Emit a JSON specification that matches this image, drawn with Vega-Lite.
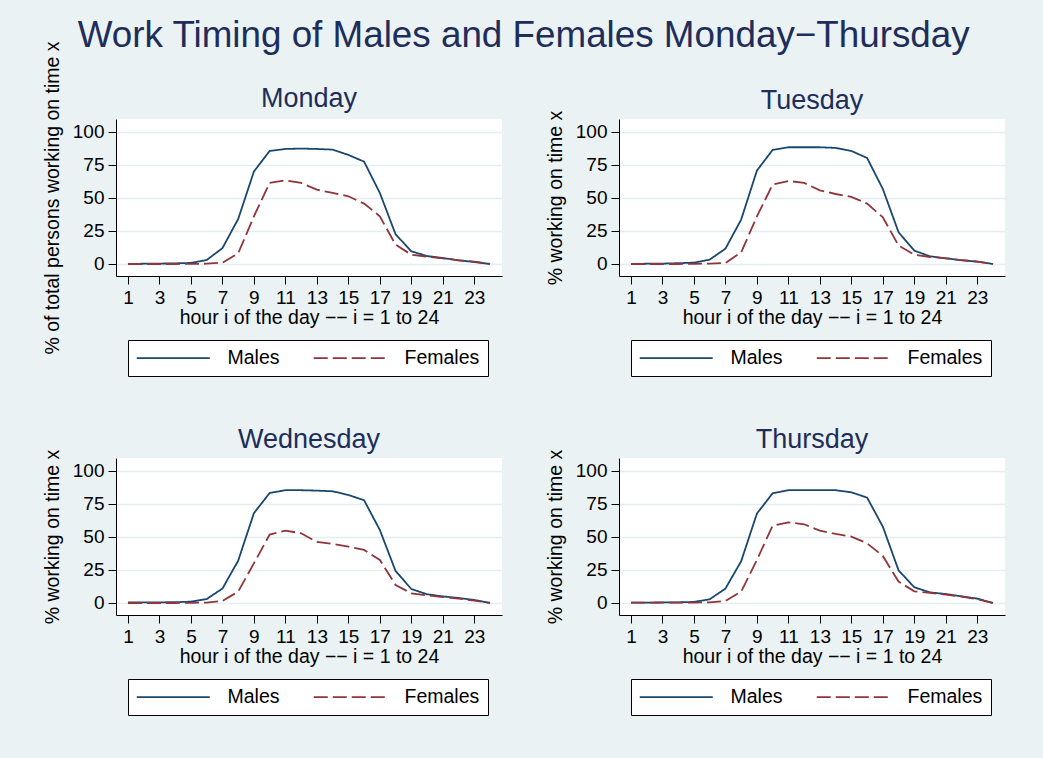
{
  "$schema": "https://vega.github.io/schema/vega-lite/v6.json",
  "padding": {"left": 42, "top": 18, "right": 38, "bottom": 46},
  "background": "#EAF2F3",
  "title": {"text": "Work Timing of Males and Females Monday−Thursday", "fontSize": 36.8, "anchor": "middle", "frame": "bounds", "color": "#1E2D5A", "fontWeight": "normal", "offset": -14},
  "datasets": {
    "work": [
      {"day":"Monday","hour":1,"Males":0,"Females":0},
      {"day":"Monday","hour":2,"Males":0.2,"Females":0},
      {"day":"Monday","hour":3,"Males":0.3,"Females":0},
      {"day":"Monday","hour":4,"Males":0.5,"Females":0},
      {"day":"Monday","hour":5,"Males":0.8,"Females":0.1},
      {"day":"Monday","hour":6,"Males":3,"Females":0.2},
      {"day":"Monday","hour":7,"Males":12,"Females":1},
      {"day":"Monday","hour":8,"Males":34,"Females":8},
      {"day":"Monday","hour":9,"Males":70,"Females":36},
      {"day":"Monday","hour":10,"Males":85.6,"Females":61.4},
      {"day":"Monday","hour":11,"Males":87.1,"Females":63.4},
      {"day":"Monday","hour":12,"Males":87.4,"Females":61.4},
      {"day":"Monday","hour":13,"Males":87.1,"Females":56.3},
      {"day":"Monday","hour":14,"Males":86.6,"Females":53.8},
      {"day":"Monday","hour":15,"Males":82.6,"Females":51.3},
      {"day":"Monday","hour":16,"Males":77.5,"Females":45.7},
      {"day":"Monday","hour":17,"Males":53.8,"Females":36.1},
      {"day":"Monday","hour":18,"Males":22.5,"Females":14.6},
      {"day":"Monday","hour":19,"Males":9.6,"Females":7},
      {"day":"Monday","hour":20,"Males":6,"Females":5.6},
      {"day":"Monday","hour":21,"Males":4.5,"Females":4.3},
      {"day":"Monday","hour":22,"Males":2.8,"Females":2.8},
      {"day":"Monday","hour":23,"Males":1.5,"Females":1.8},
      {"day":"Monday","hour":24,"Males":0,"Females":0},
      {"day":"Tuesday","hour":1,"Males":0,"Females":0},
      {"day":"Tuesday","hour":2,"Males":0.2,"Females":0},
      {"day":"Tuesday","hour":3,"Males":0.3,"Females":0},
      {"day":"Tuesday","hour":4,"Males":0.6,"Females":0},
      {"day":"Tuesday","hour":5,"Males":1,"Females":0.1},
      {"day":"Tuesday","hour":6,"Males":3.3,"Females":0.3},
      {"day":"Tuesday","hour":7,"Males":11.6,"Females":0.8},
      {"day":"Tuesday","hour":8,"Males":33.6,"Females":8.8},
      {"day":"Tuesday","hour":9,"Males":70.7,"Females":36},
      {"day":"Tuesday","hour":10,"Males":86.4,"Females":60.1},
      {"day":"Tuesday","hour":11,"Males":88.4,"Females":62.9},
      {"day":"Tuesday","hour":12,"Males":88.4,"Females":61.4},
      {"day":"Tuesday","hour":13,"Males":88.4,"Females":55.8},
      {"day":"Tuesday","hour":14,"Males":87.9,"Females":53},
      {"day":"Tuesday","hour":15,"Males":85.6,"Females":50.8},
      {"day":"Tuesday","hour":16,"Males":80.3,"Females":45.7},
      {"day":"Tuesday","hour":17,"Males":56.8,"Females":35.4},
      {"day":"Tuesday","hour":18,"Males":24,"Females":13.9},
      {"day":"Tuesday","hour":19,"Males":10.1,"Females":7},
      {"day":"Tuesday","hour":20,"Males":5.8,"Females":5.3},
      {"day":"Tuesday","hour":21,"Males":4.3,"Females":4.3},
      {"day":"Tuesday","hour":22,"Males":2.8,"Females":3},
      {"day":"Tuesday","hour":23,"Males":1.8,"Females":1.8},
      {"day":"Tuesday","hour":24,"Males":0,"Females":0},
      {"day":"Wednesday","hour":1,"Males":0.5,"Females":0},
      {"day":"Wednesday","hour":2,"Males":0.5,"Females":0},
      {"day":"Wednesday","hour":3,"Males":0.5,"Females":0},
      {"day":"Wednesday","hour":4,"Males":0.6,"Females":0},
      {"day":"Wednesday","hour":5,"Males":1,"Females":0.1},
      {"day":"Wednesday","hour":6,"Males":3,"Females":0.3},
      {"day":"Wednesday","hour":7,"Males":10.9,"Females":1.5},
      {"day":"Wednesday","hour":8,"Males":32,"Females":8.6},
      {"day":"Wednesday","hour":9,"Males":68,"Females":30},
      {"day":"Wednesday","hour":10,"Males":83.3,"Females":51.8},
      {"day":"Wednesday","hour":11,"Males":85.4,"Females":54.8},
      {"day":"Wednesday","hour":12,"Males":85.4,"Females":52.8},
      {"day":"Wednesday","hour":13,"Males":85.1,"Females":46.2},
      {"day":"Wednesday","hour":14,"Males":84.6,"Females":44.7},
      {"day":"Wednesday","hour":15,"Males":81.8,"Females":42.7},
      {"day":"Wednesday","hour":16,"Males":77.8,"Females":40.2},
      {"day":"Wednesday","hour":17,"Males":55.3,"Females":32.6},
      {"day":"Wednesday","hour":18,"Males":24.2,"Females":13.6},
      {"day":"Wednesday","hour":19,"Males":10.6,"Females":7.3},
      {"day":"Wednesday","hour":20,"Males":6.6,"Females":5.8},
      {"day":"Wednesday","hour":21,"Males":5,"Females":4.5},
      {"day":"Wednesday","hour":22,"Males":3.8,"Females":3.3},
      {"day":"Wednesday","hour":23,"Males":2.3,"Females":1.8},
      {"day":"Wednesday","hour":24,"Males":0,"Females":0},
      {"day":"Thursday","hour":1,"Males":0.3,"Females":0.2},
      {"day":"Thursday","hour":2,"Males":0.3,"Females":0.2},
      {"day":"Thursday","hour":3,"Males":0.4,"Females":0.2},
      {"day":"Thursday","hour":4,"Males":0.5,"Females":0.2},
      {"day":"Thursday","hour":5,"Males":0.8,"Females":0.3},
      {"day":"Thursday","hour":6,"Males":2.8,"Females":0.5},
      {"day":"Thursday","hour":7,"Males":10.9,"Females":1.5},
      {"day":"Thursday","hour":8,"Males":31.6,"Females":8.6},
      {"day":"Thursday","hour":9,"Males":67.7,"Females":32.6},
      {"day":"Thursday","hour":10,"Males":83.1,"Females":58.6},
      {"day":"Thursday","hour":11,"Males":85.4,"Females":61.1},
      {"day":"Thursday","hour":12,"Males":85.4,"Females":59.6},
      {"day":"Thursday","hour":13,"Males":85.4,"Females":54.8},
      {"day":"Thursday","hour":14,"Males":85.4,"Females":52.3},
      {"day":"Thursday","hour":15,"Males":83.8,"Females":50.3},
      {"day":"Thursday","hour":16,"Males":79.8,"Females":45.2},
      {"day":"Thursday","hour":17,"Males":57.8,"Females":35.6},
      {"day":"Thursday","hour":18,"Males":24.7,"Females":16.2},
      {"day":"Thursday","hour":19,"Males":11.9,"Females":8.8},
      {"day":"Thursday","hour":20,"Males":8,"Females":7.6},
      {"day":"Thursday","hour":21,"Males":6.8,"Females":6.3},
      {"day":"Thursday","hour":22,"Males":5,"Females":4.8},
      {"day":"Thursday","hour":23,"Males":3.3,"Females":2.8},
      {"day":"Thursday","hour":24,"Males":0,"Females":0}
    ]
  },
  "data": {"name": "work"},
  "columns": 2,
  "bounds": "flush",
  "spacing": {"row": 182, "column": 117},
  "concat": [
    {
      "title": {"text": "Monday", "offset": -72},
      "width": 386, "height": 157,
      "transform": [{"filter": "datum.day === 'Monday'"}, {"fold": ["Males", "Females"], "as": ["sex", "value"]}],
      "mark": {"type": "line", "strokeWidth": 1.8},
      "encoding": {
        "x": {"field": "hour", "type": "quantitative", "scale": {"domain": [0.24, 24.76], "nice": false, "zero": false}, "axis": {"values": [1,3,5,7,9,11,13,15,17,19,21,23], "title": "hour i of the day −− i = 1 to 24"}},
        "y": {"field": "value", "type": "quantitative", "scale": {"domain": [-9.1, 109.8], "nice": false, "zero": false}, "axis": {"values": [0,25,50,75,100], "title": "% of total persons working on time x"}},
        "color": {"field": "sex", "type": "nominal", "scale": {"domain": ["Males", "Females"], "range": ["#1A476F", "#90353B"]}, "legend": {"orient": "none", "legendX": 12, "legendY": 221, "direction": "horizontal", "columns": 2, "title": null}},
        "strokeDash": {"field": "sex", "type": "nominal", "scale": {"domain": ["Males", "Females"], "range": [[1, 0], [14, 5]]}, "legend": {"orient": "none", "legendX": 12, "legendY": 221, "direction": "horizontal", "columns": 2, "title": null}}
      }
    },
    {
      "title": {"text": "Tuesday", "offset": -5},
      "width": 386, "height": 157,
      "transform": [{"filter": "datum.day === 'Tuesday'"}, {"fold": ["Males", "Females"], "as": ["sex", "value"]}],
      "mark": {"type": "line", "strokeWidth": 1.8},
      "encoding": {
        "x": {"field": "hour", "type": "quantitative", "scale": {"domain": [0.24, 24.76], "nice": false, "zero": false}, "axis": {"values": [1,3,5,7,9,11,13,15,17,19,21,23], "title": "hour i of the day −− i = 1 to 24"}},
        "y": {"field": "value", "type": "quantitative", "scale": {"domain": [-9.1, 109.8], "nice": false, "zero": false}, "axis": {"values": [0,25,50,75,100], "title": "% working on time x"}},
        "color": {"field": "sex", "type": "nominal", "scale": {"domain": ["Males", "Females"], "range": ["#1A476F", "#90353B"]}, "legend": {"orient": "none", "legendX": 12, "legendY": 221, "direction": "horizontal", "columns": 2, "title": null}},
        "strokeDash": {"field": "sex", "type": "nominal", "scale": {"domain": ["Males", "Females"], "range": [[1, 0], [14, 5]]}, "legend": {"orient": "none", "legendX": 12, "legendY": 221, "direction": "horizontal", "columns": 2, "title": null}}
      }
    },
    {
      "title": {"text": "Wednesday", "offset": -5},
      "width": 386, "height": 157,
      "transform": [{"filter": "datum.day === 'Wednesday'"}, {"fold": ["Males", "Females"], "as": ["sex", "value"]}],
      "mark": {"type": "line", "strokeWidth": 1.8},
      "encoding": {
        "x": {"field": "hour", "type": "quantitative", "scale": {"domain": [0.24, 24.76], "nice": false, "zero": false}, "axis": {"values": [1,3,5,7,9,11,13,15,17,19,21,23], "title": "hour i of the day −− i = 1 to 24"}},
        "y": {"field": "value", "type": "quantitative", "scale": {"domain": [-9.1, 109.8], "nice": false, "zero": false}, "axis": {"values": [0,25,50,75,100], "title": "% working on time x"}},
        "color": {"field": "sex", "type": "nominal", "scale": {"domain": ["Males", "Females"], "range": ["#1A476F", "#90353B"]}, "legend": {"orient": "none", "legendX": 12, "legendY": 221, "direction": "horizontal", "columns": 2, "title": null}},
        "strokeDash": {"field": "sex", "type": "nominal", "scale": {"domain": ["Males", "Females"], "range": [[1, 0], [14, 5]]}, "legend": {"orient": "none", "legendX": 12, "legendY": 221, "direction": "horizontal", "columns": 2, "title": null}}
      }
    },
    {
      "title": {"text": "Thursday", "offset": -5},
      "width": 386, "height": 157,
      "transform": [{"filter": "datum.day === 'Thursday'"}, {"fold": ["Males", "Females"], "as": ["sex", "value"]}],
      "mark": {"type": "line", "strokeWidth": 1.8},
      "encoding": {
        "x": {"field": "hour", "type": "quantitative", "scale": {"domain": [0.24, 24.76], "nice": false, "zero": false}, "axis": {"values": [1,3,5,7,9,11,13,15,17,19,21,23], "title": "hour i of the day −− i = 1 to 24"}},
        "y": {"field": "value", "type": "quantitative", "scale": {"domain": [-9.1, 109.8], "nice": false, "zero": false}, "axis": {"values": [0,25,50,75,100], "title": "% working on time x"}},
        "color": {"field": "sex", "type": "nominal", "scale": {"domain": ["Males", "Females"], "range": ["#1A476F", "#90353B"]}, "legend": {"orient": "none", "legendX": 12, "legendY": 221, "direction": "horizontal", "columns": 2, "title": null}},
        "strokeDash": {"field": "sex", "type": "nominal", "scale": {"domain": ["Males", "Females"], "range": [[1, 0], [14, 5]]}, "legend": {"orient": "none", "legendX": 12, "legendY": 221, "direction": "horizontal", "columns": 2, "title": null}}
      }
    }
  ],
  "resolve": {
    "scale": {"x": "independent", "y": "independent", "color": "independent", "strokeDash": "independent"},
    "axis": {"x": "independent", "y": "independent"},
    "legend": {"color": "independent", "strokeDash": "independent"}
  },
  "config": {
    "font": "Liberation Sans",
    "view": {"fill": "white", "stroke": null},
    "axis": {
      "labelFont": "Liberation Sans", "labelFontSize": 19, "labelColor": "black",
      "titleFont": "Liberation Sans", "titleFontSize": 19.5, "titleFontWeight": "normal", "titleColor": "black",
      "domainColor": "#000000", "domainWidth": 1, "tickColor": "#000000", "tickSize": 8, "tickWidth": 1,
      "labelPadding": 4, "gridColor": "#E4EEF0", "gridWidth": 1.5
    },
    "axisX": {"grid": false, "titlePadding": 1, "labelFlush": false, "labelOverlap": false},
    "axisY": {"titlePadding": 10, "labelOverlap": false},
    "title": {"font": "Liberation Sans", "fontSize": 27, "fontWeight": "normal", "color": "#1E2D5A", "frame": "group", "anchor": "middle"},
    "legend": {
      "strokeColor": "black", "fillColor": "white", "padding": 8,
      "symbolType": "M-1.8,0H12.8", "symbolSize": 100, "symbolStrokeWidth": 1.8,
      "labelFont": "Liberation Sans", "labelFontSize": 19.5, "labelColor": "black",
      "labelOffset": 72, "columnPadding": 30, "cornerRadius": 0
    }
  }
}
